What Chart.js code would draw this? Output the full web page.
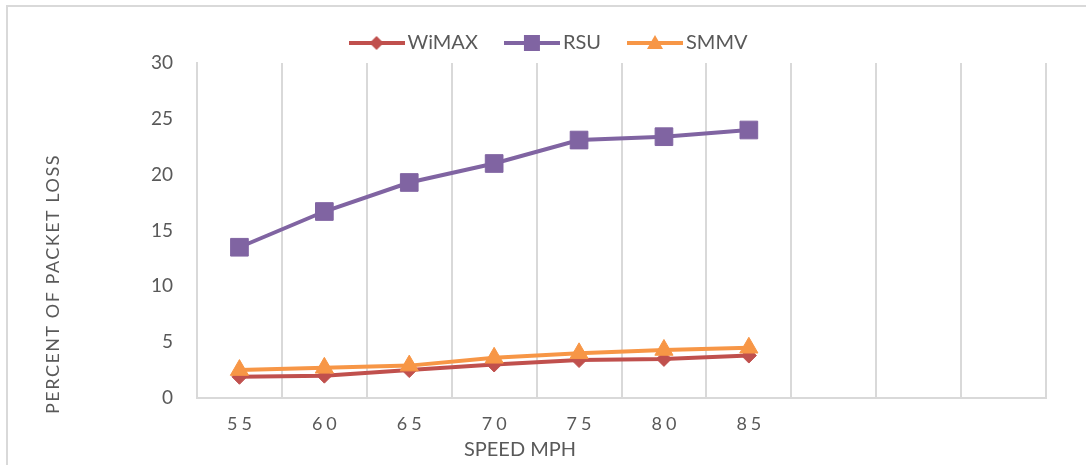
<!DOCTYPE html>
<html>
<head>
<meta charset="utf-8">
<script src="https://cdn.jsdelivr.net/npm/chart.js@4"></script>
<style>
  html, body { margin: 0; padding: 0; background: #fff; overflow: hidden; }
  #wrap { position: relative; width: 1086px; height: 465px; }
  #frame {
    position: absolute; left: 6px; top: 5px; right: -10px; bottom: -10px;
    border-top: 2px solid #d9d9d9; border-left: 2px solid #d9d9d9;
    pointer-events: none;
  }
</style>
</head>
<body>
<div id="wrap">
  <canvas id="chart" width="1086" height="465"></canvas>
  <div id="frame"></div>
</div>
<script>
// chart data
const speeds = ['55', '60', '65', '70', '75', '80', '85', '', '', ''];
const wimax = [1.9, 2.0, 2.5, 3.0, 3.4, 3.5, 3.8];
const rsu = [13.5, 16.7, 19.3, 21.0, 23.1, 23.4, 24.0];
const smmv = [2.5, 2.7, 2.9, 3.6, 4.0, 4.3, 4.5];
const yTicks = [0, 5, 10, 15, 20, 25, 30];

const textColor = '#595959';
const gridColor = '#d9d9d9';
const fontName = 'Lato, "Open Sans", sans-serif';

// legend swatch: line with the marker in the middle
function legendSwatch(color, shape) {
    const c = document.createElement('canvas');
    c.width = 56;
    c.height = 22;
    const ctx = c.getContext('2d');
    ctx.strokeStyle = color;
    ctx.fillStyle = color;
    ctx.lineWidth = 4;
    ctx.beginPath();
    ctx.moveTo(0, 11);
    ctx.lineTo(56, 11);
    ctx.stroke();
    ctx.beginPath();
    if (shape === 'diamond') {
        ctx.moveTo(28, 4); ctx.lineTo(35, 11); ctx.lineTo(28, 18); ctx.lineTo(21, 11);
    } else if (shape === 'square') {
        ctx.rect(20, 3, 16, 16);
    } else {
        ctx.moveTo(28, 3); ctx.lineTo(36, 17); ctx.lineTo(20, 17);
    }
    ctx.closePath();
    ctx.fill();
    return c;
}

const swatches = [
    legendSwatch('#c0504d', 'diamond'),
    legendSwatch('#8064a2', 'square'),
    legendSwatch('#f79646', 'triangle')
];

// axis titles drawn by hand (spacing + placement as in the original)
const axisTitles = {
    id: 'axisTitles',
    afterDraw(chart) {
        const ctx = chart.ctx;
        ctx.save();
        ctx.fillStyle = textColor;
        ctx.textAlign = 'center';
        ctx.textBaseline = 'middle';
        ctx.font = '20px ' + fontName;
        ctx.fillText('SPEED MPH', 520, 450);
        ctx.font = '18px ' + fontName;
        ctx.translate(53, 284);
        ctx.rotate(-Math.PI / 2);
        ctx.letterSpacing = '1.5px';
        ctx.fillText('PERCENT OF PACKET LOSS', 0, 0);
        ctx.restore();
    }
};

new Chart(document.getElementById('chart'), {
    type: 'line',
    data: {
        labels: speeds,
        datasets: [
            {
                label: 'WiMAX',
                data: wimax,
                borderColor: '#c0504d',
                backgroundColor: '#c0504d',
                borderWidth: 4,
                pointStyle: 'rectRot',
                pointRadius: 7.5,
                pointBorderWidth: 1,
                order: 2
            },
            {
                label: 'RSU',
                data: rsu,
                borderColor: '#8064a2',
                backgroundColor: '#8064a2',
                borderWidth: 4,
                pointStyle: 'rect',
                pointRadius: 12.5,
                pointBorderWidth: 1,
                order: 1
            },
            {
                label: 'SMMV',
                data: smmv,
                borderColor: '#f79646',
                backgroundColor: '#f79646',
                borderWidth: 4,
                pointStyle: 'triangle',
                pointRadius: 10.5,
                pointBorderWidth: 1,
                order: 0
            }
        ]
    },
    options: {
        responsive: false,
        animation: false,
        layout: { padding: { left: 57, right: 40, top: 0, bottom: 0 } },
        plugins: {
            legend: {
                position: 'top',
                labels: {
                    usePointStyle: true,
                    pointStyleWidth: 42,
                    padding: 33,
                    color: textColor,
                    font: { family: fontName, size: 20 },
                    sort: (a, b) => a.datasetIndex - b.datasetIndex,
                    generateLabels(chart) {
                        const items = Chart.defaults.plugins.legend.labels.generateLabels(chart);
                        items.forEach(it => { it.pointStyle = swatches[it.datasetIndex]; });
                        return items;
                    }
                }
            },
            tooltip: { enabled: false }
        },
        scales: {
            x: {
                offset: true,
                grid: { display: true, offset: true, color: gridColor, lineWidth: 2, drawTicks: false },
                border: { display: true, color: gridColor, width: 2 },
                ticks: {
                    color: textColor,
                    font: { family: fontName, size: 18 },
                    padding: 15,
                    maxRotation: 0,
                    autoSkip: false
                },
                afterFit(scale) {
                    scale.height = 67;
                    if (!scale._spaced) {
                        const orig = scale.drawLabels;
                        scale.drawLabels = function (area) {
                            this.ctx.save();
                            this.ctx.letterSpacing = '4px';
                            this.ctx.translate(2, 0);
                            orig.call(this, area);
                            this.ctx.restore();
                        };
                        scale._spaced = true;
                    }
                }
            },
            y: {
                min: 0,
                max: 30,
                afterBuildTicks(scale) {
                    scale.ticks = yTicks.map(v => ({ value: v }));
                },
                grid: { display: false, drawTicks: false },
                border: { display: true, color: gridColor, width: 2 },
                ticks: {
                    color: textColor,
                    font: { family: fontName, size: 19 },
                    padding: 24
                },
                afterFit(scale) {
                    scale.width = 140;
                }
            }
        }
    },
    plugins: [axisTitles]
});
</script>
</body>
</html>
